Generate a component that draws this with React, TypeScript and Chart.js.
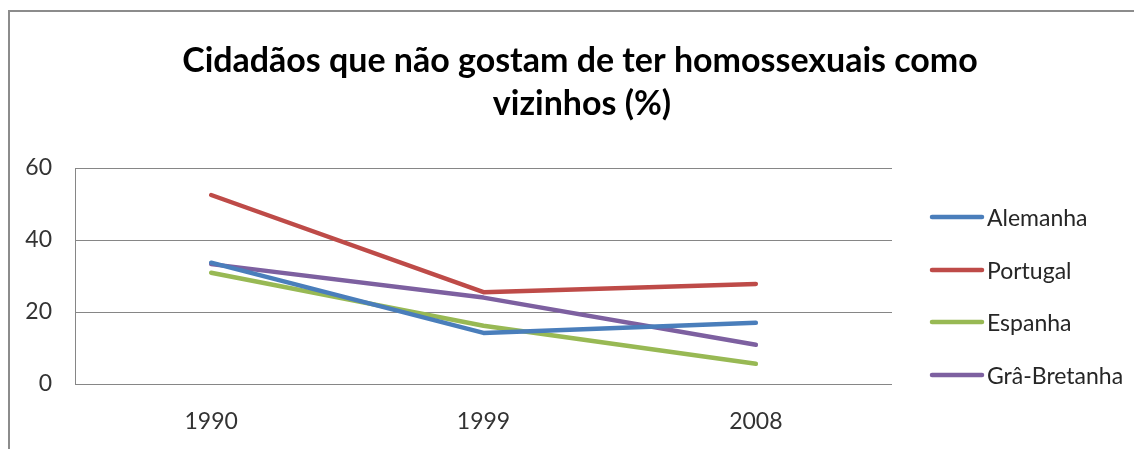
import React, { useEffect, useRef } from "react";
import { Chart, registerables } from "chart.js";

Chart.register(...registerables);

const titleLines = ["Cidadãos que não gostam de ter homossexuais como", "vizinhos (%)"];
const years = ["1990", "1999", "2008"];
const alemanha = [33.7, 14.2, 17.0];
const portugal = [52.5, 25.5, 27.8];
const espanha = [30.9, 16.2, 5.6];
const graBretanha = [33.3, 24.0, 10.9];
const seriesNames = ["Alemanha", "Portugal", "Espanha", "Grâ-Bretanha"];
const seriesColors = ["#4A7EBB", "#BE4B48", "#98B954", "#7D60A0"];
const yTicks = [0, 20, 40, 60];

const W = 1134;
const H = 441;

const decorPlugin = {
  id: "decor",
  beforeDraw(chart: any) {
    const ctx = chart.ctx;
    ctx.save();
    ctx.fillStyle = "#ffffff";
    ctx.fillRect(0, 0, chart.width, chart.height);
    ctx.strokeStyle = "#8c8c8c";
    ctx.lineWidth = 2;
    ctx.beginPath();
    ctx.moveTo(1, chart.height + 5);
    ctx.lineTo(1, 3);
    ctx.lineTo(chart.width + 5, 3);
    ctx.stroke();
    ctx.restore();
  },
  afterDraw(chart: any) {
    const ctx = chart.ctx;
    ctx.save();
    // title
    ctx.fillStyle = "#000000";
    ctx.textAlign = "center";
    ctx.textBaseline = "alphabetic";
    let size = 32;
    ctx.font = `bold ${size}px Lato`;
    const w = ctx.measureText(titleLines[0]).width;
    size = (size * 796) / w;
    ctx.font = `bold ${size}px Lato`;
    ctx.fillText(titleLines[0], 572, 64);
    ctx.fillText(titleLines[1], 574, 107);
    // legend
    ctx.font = "23px Lato";
    ctx.textAlign = "left";
    const ys = [209, 262, 314, 367];
    chart.data.datasets.forEach((ds: any, i: number) => {
      const y = ys[i];
      ctx.strokeStyle = ds.borderColor;
      ctx.lineWidth = 4.5;
      ctx.lineCap = "round";
      ctx.beginPath();
      ctx.moveTo(924, y);
      ctx.lineTo(974, y);
      ctx.stroke();
      ctx.fillStyle = "#262626";
      ctx.fillText(ds.label, 979, y + 8.5);
    });
    ctx.restore();
  },
};

export default function App() {
  const ref = useRef<HTMLCanvasElement | null>(null);
  useEffect(() => {
    if (!ref.current) return;
    const datasets = [alemanha, portugal, espanha, graBretanha].map((d, i) => ({
      label: seriesNames[i],
      data: d,
      borderColor: seriesColors[i],
      backgroundColor: seriesColors[i],
      borderWidth: 4.5,
      pointRadius: 0,
      tension: 0,
      borderCapStyle: "round" as const,
      borderJoinStyle: "round" as const,
    }));
    const chart = new Chart(ref.current, {
      type: "line",
      data: { labels: years, datasets },
      options: {
        responsive: false,
        animation: false,
        devicePixelRatio: 1,
        layout: { padding: { left: 0, right: W - 884, top: 160, bottom: 0 } },
        plugins: { legend: { display: false }, title: { display: false }, tooltip: { enabled: false } },
        scales: {
          x: {
            type: "category",
            offset: true,
            grid: { display: false, drawTicks: false },
            border: { display: false },
            ticks: { font: { family: "Lato", size: 23 }, color: "#333333", padding: 24, maxRotation: 0 },
            afterFit(scale: any) {
              scale.height = H - 376;
            },
          },
          y: {
            min: 0,
            max: 60,
            afterBuildTicks(scale: any) {
              scale.ticks = yTicks.map((v) => ({ value: v }));
            },
            grid: { color: "#868686", lineWidth: 1, drawTicks: false },
            border: { display: true, color: "#868686", width: 1 },
            ticks: { font: { family: "Lato", size: 23 }, color: "#333333", padding: 23 },
            afterFit(scale: any) {
              scale.width = 67;
            },
          },
        },
      },
      plugins: [decorPlugin],
    });
    return () => chart.destroy();
  }, []);
  return (
    <div style={{ width: W, height: H }}>
      <canvas ref={ref} width={W} height={H} style={{ display: "block", width: W, height: H }} />
    </div>
  );
}
